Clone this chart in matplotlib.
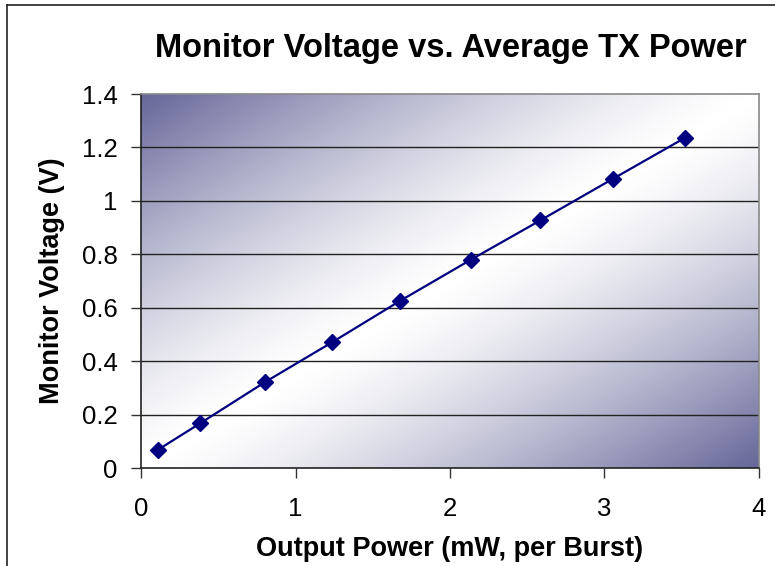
import matplotlib

matplotlib.use("Agg")
import matplotlib.pyplot as plt  # noqa: E402
import numpy as np  # noqa: E402
from matplotlib.colors import LinearSegmentedColormap  # noqa: E402
from matplotlib.lines import Line2D  # noqa: E402

# values
power_mw = [0.112, 0.382, 0.804, 1.235, 1.675, 2.133, 2.585, 3.053, 3.521]
monitor_v = [0.069, 0.167, 0.322, 0.470, 0.625, 0.779, 0.927, 1.082, 1.236]
x_ticks = [0, 1, 2, 3, 4]
y_ticks = [0, 0.2, 0.4, 0.6, 0.8, 1, 1.2, 1.4]
y_tick_labels = ["0", "0.2", "0.4", "0.6", "0.8", "1", "1.2", "1.4"]

NAVY = "#000080"
CORNER = "#666699"

plt.rcParams.update(
    {
        "font.family": ["Liberation Sans", "DejaVu Sans"],
        "font.size": 18,
    }
)

W, H = 775, 566
fig = plt.figure(figsize=(W / 100, H / 100), dpi=100)
fig.patch.set_facecolor("white")

# plot area in pixels: left 141, right 759, top 94, bottom 468
ax = fig.add_axes([141 / W, 1 - 468 / H, (759 - 141) / W, (468 - 94) / H])

# diagonal two-way gradient: dark corners, white along the rising diagonal
u, v = np.meshgrid(np.linspace(0, 1, 400), np.linspace(1, 0, 300))
shade = np.abs(u + (1 - v) - 1) ** 1.35
cmap = LinearSegmentedColormap.from_list("bg", ["#ffffff", CORNER])
ax.imshow(shade, cmap=cmap, vmin=0, vmax=1, extent=[0, 1, 0, 1],
          transform=ax.transAxes, aspect="auto", zorder=0, interpolation="bilinear")

ax.set_xlim(0, 4)
ax.set_ylim(0, 1.4)
ax.set_xticks(x_ticks)
ax.set_yticks(y_ticks)
ax.set_yticklabels(y_tick_labels)
ax.tick_params(direction="out", length=7, width=1, color="#333333", pad=10,
               labelsize=18.5)
ax.tick_params(axis="x", pad=14)

for y in y_ticks[1:-1]:
    ax.axhline(y, color="#222222", linewidth=1, zorder=1)

ax.spines["left"].set_color("#222222")
ax.spines["bottom"].set_color("#222222")
ax.spines["top"].set_color("#888888")
ax.spines["right"].set_color("#888888")
for s in ax.spines.values():
    s.set_linewidth(1.2)

ax.plot(power_mw, monitor_v, color=NAVY, linewidth=1.6, marker="D",
        markersize=8.5, markerfacecolor=NAVY, markeredgecolor=NAVY, zorder=3,
        clip_on=False)

ax.set_xlabel("Output Power (mW, per Burst)", fontsize=19.5, fontweight="bold",
              labelpad=11)
ax.set_ylabel("Monitor Voltage (V)", fontsize=19.5, fontweight="bold", labelpad=12)

fig.text(451 / W, 1 - 48 / H, "Monitor Voltage vs. Average TX Power",
         ha="center", va="center", fontsize=23.5, fontweight="bold")

# chart-area border (top and left edges visible in the crop)
fig.add_artist(Line2D([7 / W, 1.0], [1 - 5 / H, 1 - 5 / H],
                      transform=fig.transFigure, color="#222222", linewidth=1.2))
fig.add_artist(Line2D([7 / W, 7 / W], [1 - 5 / H, 0.0],
                      transform=fig.transFigure, color="#222222", linewidth=1.2))

fig.savefig("out.png", dpi=100, facecolor="white")
